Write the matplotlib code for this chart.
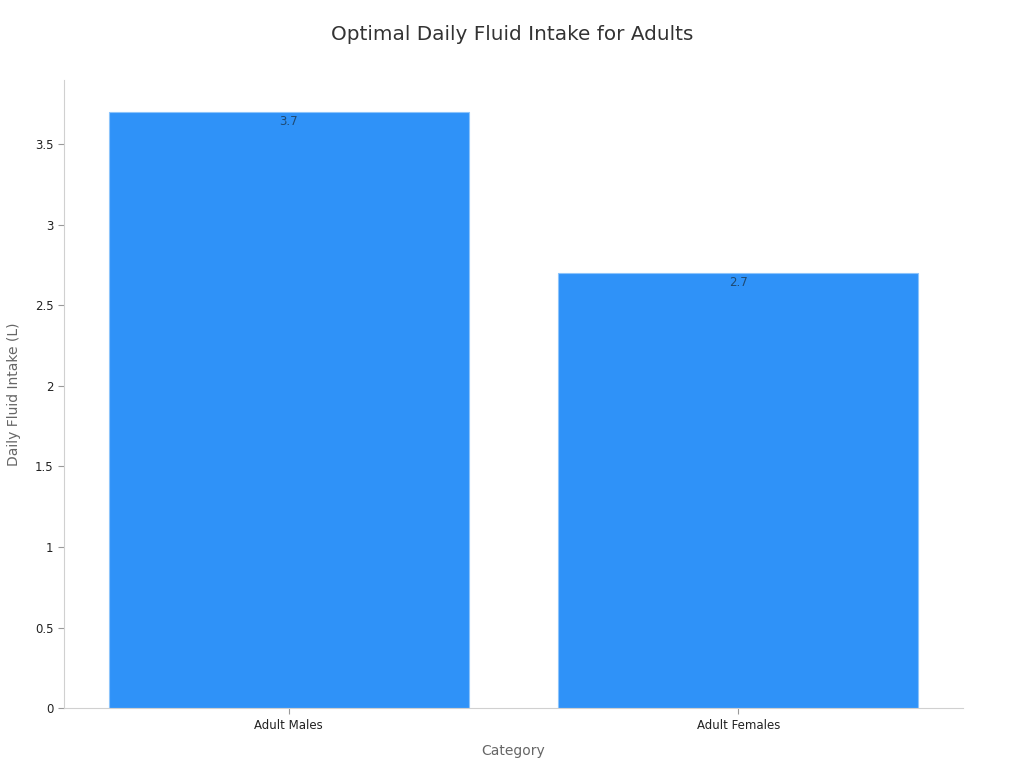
import matplotlib
matplotlib.use('Agg')
import matplotlib.pyplot as plt

categories = ['Adult Males', 'Adult Females']
intake_litres = [3.7, 2.7]

fig = plt.figure(figsize=(10.24, 7.68), dpi=100)
ax = fig.add_axes([0.0625, 0.078, 0.878, 0.818])

bars = ax.bar(range(len(categories)), intake_litres, width=0.8,
              color='#2f92f8', edgecolor='#8cc4fb', linewidth=0.8)

# value labels sit just inside the top of each bar
for bar, val in zip(bars, intake_litres):
    ax.text(bar.get_x() + bar.get_width() / 2, val - 0.015, f'{val}',
            ha='center', va='top', fontsize=8.5, color='#1f4a73')

ax.set_xlim(-0.5, 1.5)
ax.set_ylim(0, 3.9)
ax.set_xticks(range(len(categories)))
ax.set_xticklabels(categories)
ax.set_yticks([0, 0.5, 1, 1.5, 2, 2.5, 3, 3.5])
ax.set_yticklabels(['0', '0.5', '1', '1.5', '2', '2.5', '3', '3.5'])
ax.tick_params(labelsize=8.5, colors='#222222', length=4)
ax.tick_params(axis='both', color='#999999')

for side in ['top', 'right']:
    ax.spines[side].set_visible(False)
for side in ['left', 'bottom']:
    ax.spines[side].set_color('#d0d0d0')

ax.set_xlabel('Category', fontsize=10, color='#666666', labelpad=9)
ax.set_ylabel('Daily Fluid Intake (L)', fontsize=10, color='#666666', labelpad=10)
fig.suptitle('Optimal Daily Fluid Intake for Adults', fontsize=14.4,
             color='#333333', y=0.968)

fig.savefig('out.png', dpi=100)
